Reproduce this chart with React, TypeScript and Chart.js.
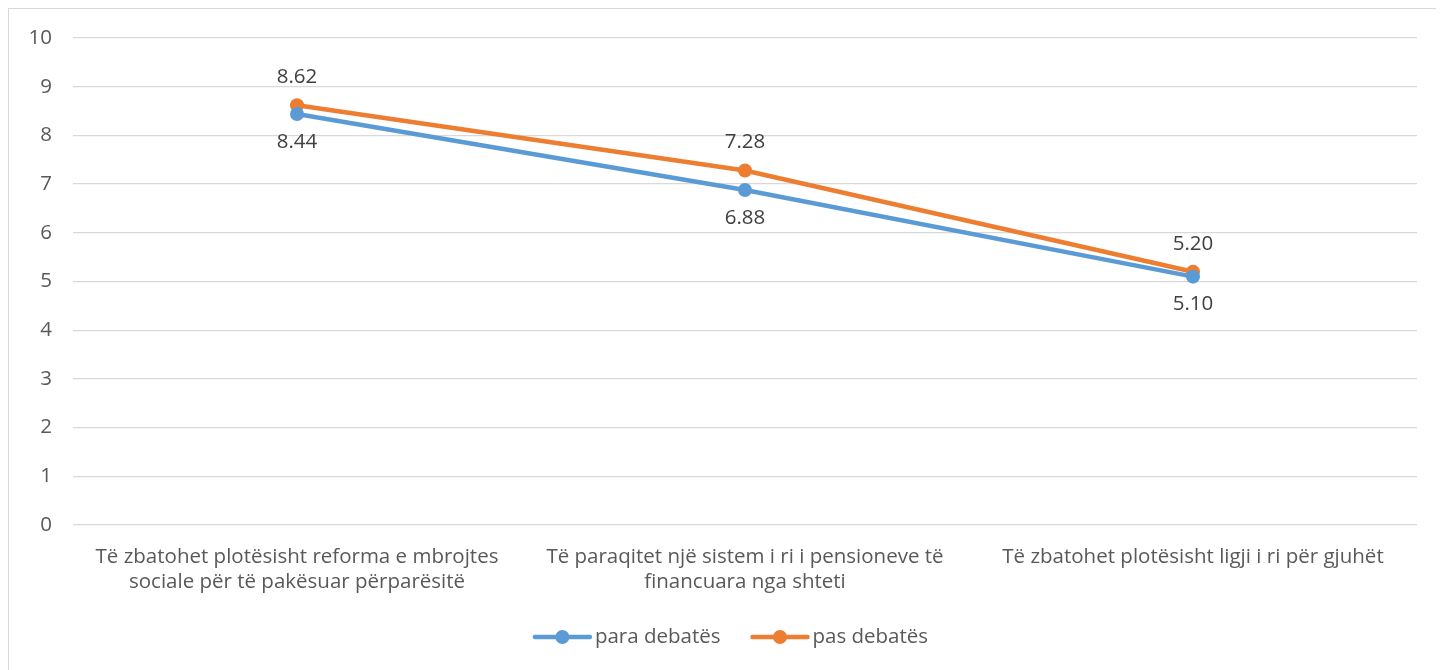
import React, { useEffect, useRef } from "react";
import { Chart, registerables } from "chart.js";

Chart.register(...registerables);

const categories: string[][] = [
  ["Të zbatohet plotësisht reforma e mbrojtes", "sociale për të pakësuar përparësitë"],
  ["Të paraqitet një sistem i ri i pensioneve të", "financuara nga shteti"],
  ["Të zbatohet plotësisht ligji i ri për gjuhët"],
];
const paraDebates: number[] = [8.44, 6.88, 5.1];
const pasDebates: number[] = [8.62, 7.28, 5.2];
const seriesNames: string[] = ["para debatës", "pas debatës"];
const colors: string[] = ["#5B9BD5", "#ED7D31"];

const FONT = "'Open Sans', 'Noto Sans', sans-serif";
const TEXT = "#595959";

const labelPlugin = {
  id: "customLabels",
  afterDatasetsDraw(chart: any) {
    const ctx = chart.ctx;
    ctx.save();
    ctx.font = `20.5px ${FONT}`;
    ctx.fillStyle = "#404040";
    ctx.textAlign = "center";
    ctx.textBaseline = "middle";
    chart.data.datasets.forEach((ds: any, di: number) => {
      const meta = chart.getDatasetMeta(di);
      meta.data.forEach((pt: any, i: number) => {
        const v = ds.data[i] as number;
        const dy = di === 0 ? 28 : -28;
        ctx.fillText(v.toFixed(2), pt.x, pt.y + dy);
      });
    });
    // legend
    const cy = 628;
    const items = seriesNames.map((n, i) => ({ n, c: colors[i] }));
    ctx.font = `20.5px ${FONT}`;
    ctx.textAlign = "left";
    const lineW = 55;
    const gap = 5;
    const between = 32;
    const widths = items.map((it) => lineW + gap + ctx.measureText(it.n).width);
    const total = widths.reduce((a, b) => a + b, 0) + between * (items.length - 1);
    let x = chart.width / 2 - total / 2 + 5;
    items.forEach((it, i) => {
      ctx.strokeStyle = it.c;
      ctx.lineWidth = 4.5;
      ctx.lineCap = "round";
      ctx.beginPath();
      ctx.moveTo(x, cy);
      ctx.lineTo(x + lineW, cy);
      ctx.stroke();
      ctx.fillStyle = it.c;
      ctx.beginPath();
      ctx.arc(x + lineW / 2, cy, 7, 0, Math.PI * 2);
      ctx.fill();
      ctx.fillStyle = TEXT;
      ctx.fillText(it.n, x + lineW + gap, cy);
      x += widths[i] + between;
    });
    ctx.restore();
  },
};

export default function App() {
  const ref = useRef<HTMLCanvasElement>(null);
  useEffect(() => {
    if (!ref.current) return;
    const chart = new Chart(ref.current, {
      type: "line",
      data: {
        labels: categories as any,
        datasets: [paraDebates, pasDebates].map((d, i) => ({
          label: seriesNames[i],
          data: d,
          borderColor: colors[i],
          backgroundColor: colors[i],
          borderWidth: 4.5,
          pointRadius: 7,
          pointHoverRadius: 7,
          pointBackgroundColor: colors[i],
          pointBorderWidth: 0,
          tension: 0,
        })),
      },
      options: {
        responsive: false,
        animation: false,
        layout: { padding: { top: 29, right: 27, left: 0, bottom: 0 } },
        plugins: { legend: { display: false }, tooltip: { enabled: false } },
        scales: {
          x: {
            offset: true,
            grid: { display: false, drawTicks: false },
            border: { display: false },
            ticks: {
              color: TEXT,
              font: { family: FONT, size: 20.5, lineHeight: 1.25 },
              padding: 19,
              maxRotation: 0,
              autoSkip: false,
            },
            afterFit: (s: any) => {
              s.height = 144;
            },
          },
          y: {
            min: 0,
            max: 10,
            grid: { color: "#d9d9d9", lineWidth: 1.3, drawTicks: false },
            border: { display: false },
            ticks: {
              stepSize: 1,
              color: TEXT,
              font: { family: FONT, size: 20.5 },
              padding: 21,
            },
            afterFit: (s: any) => {
              s.width = 64;
              s.paddingTop = 12;
              s.paddingBottom = 12;
            },
          },
        },
      },
      plugins: [labelPlugin],
    });
    return () => chart.destroy();
  }, []);
  return (
    <div
      style={{
        width: 1440,
        height: 670,
        border: "1.5px solid #d9d9d9",
        boxSizing: "border-box",
        background: "#fff",
      }}
    >
      <canvas ref={ref} width={1435} height={660} style={{ display: "block" }} />
    </div>
  );
}
